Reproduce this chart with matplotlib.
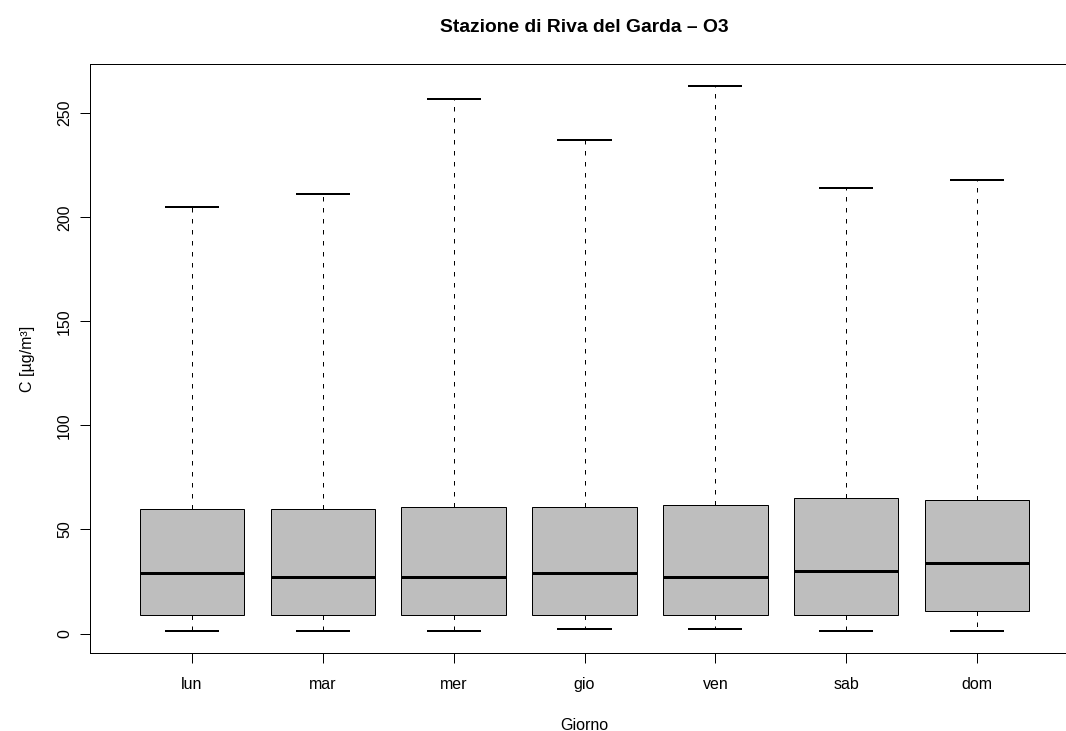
import matplotlib
matplotlib.use("Agg")
import matplotlib.pyplot as plt

# ---- data ----
days = ["lun", "mar", "mer", "gio", "ven", "sab", "dom"]
whisk_lo = [1, 1, 1, 2, 2, 1, 1]
q1 = [9, 9, 9, 9, 9, 9, 11]
median = [29, 27, 27, 29, 27, 30, 34]
q3 = [60, 60, 61, 61, 62, 65, 64]
whisk_hi = [205, 211, 257, 237, 263, 214, 218]
yticks = [0, 50, 100, 150, 200, 250]

title = "Stazione di Riva del Garda \u2013 O3"
xlabel = "Giorno"
ylabel = "C [\u00b5g/m\u00b3]"

# ---- figure ----
W, H, DPI = 1066, 731, 96
plt.rcParams["font.family"] = ["Liberation Sans", "DejaVu Sans"]
fig = plt.figure(figsize=(W / DPI, H / DPI), dpi=DPI)

x0, x1, ytop, ybot = 90, 1079, 64.3, 653.3
ax = fig.add_axes([x0 / W, 1 - ybot / H, (x1 - x0) / W, (ybot - ytop) / H])

stats = []
for i, d in enumerate(days):
    stats.append(dict(label=d, med=median[i], q1=q1[i], q3=q3[i],
                      whislo=whisk_lo[i], whishi=whisk_hi[i], fliers=[]))

ax.bxp(stats, positions=range(1, len(days) + 1), widths=0.8, capwidths=0.4,
       patch_artist=True, showfliers=False,
       boxprops=dict(facecolor="#BEBEBE", edgecolor="black", linewidth=0.75),
       whiskerprops=dict(color="black", linewidth=0.75, linestyle=(0, (4.5, 6.5))),
       capprops=dict(color="black", linewidth=1.5),
       medianprops=dict(color="black", linewidth=2.25, solid_capstyle="butt"))

ax.set_xlim(0.22, 7.78)
ax.set_ylim(-9.48, 273.48)
ax.set_xticks(range(1, len(days) + 1))
ax.set_xticklabels(days)
ax.set_yticks(yticks)
ax.set_yticklabels([str(v) for v in yticks], rotation=90, va="center")

for s in ax.spines.values():
    s.set_linewidth(0.75)
    s.set_color("black")

ax.tick_params(axis="both", direction="out", length=7.5, width=0.75,
               labelsize=12, colors="black")
ax.tick_params(axis="x", pad=10.5)
ax.tick_params(axis="y", pad=6.0)

ax.set_xlabel(xlabel, fontsize=12)
ax.xaxis.label.set_va("baseline")
ax.xaxis.set_label_coords(0.5, -(730 - ybot) / (ybot - ytop))

ax.set_ylabel(ylabel, fontsize=12, rotation=90, rotation_mode="anchor",
              ha="center", va="baseline")
ax.yaxis.set_label_coords(-(x0 - 32.4) / (x1 - x0), 0.5)

fig.text((x0 + x1) / 2 / W, 1 - 31.7 / H, title, ha="center", va="baseline",
         fontsize=14.4, fontweight="bold")

fig.savefig("out.png", dpi=DPI)
